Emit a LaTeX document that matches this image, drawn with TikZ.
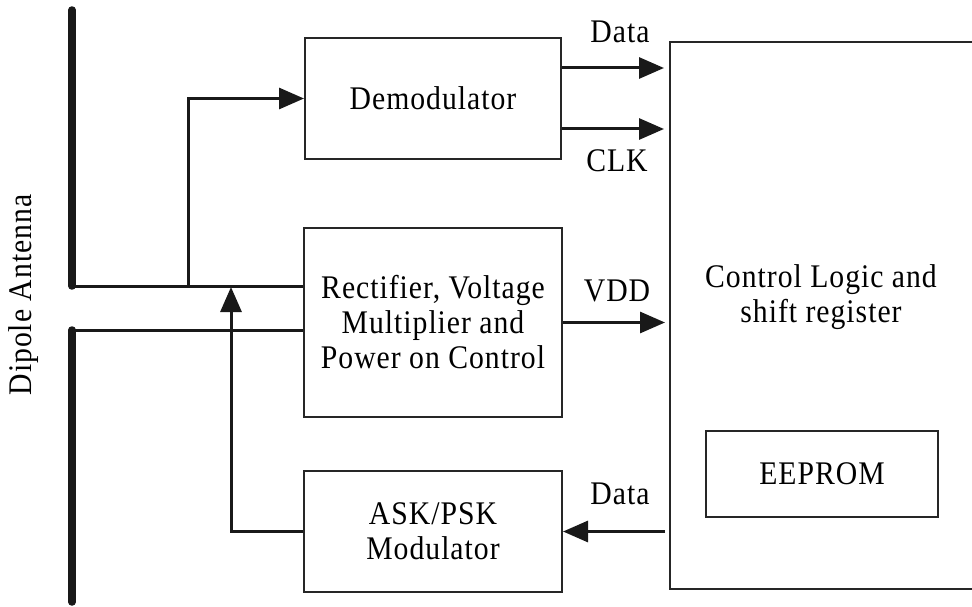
\documentclass[tikz,border=0pt]{standalone}
\usepackage{fontspec}
\setmainfont[FakeStretch=0.9,LetterSpace=3]{Liberation Serif}
\usetikzlibrary{arrows.meta}
\begin{document}
\begin{tikzpicture}[x=1pt,y=-1pt,
  every node/.style={font=\fontsize{33}{35}\selectfont, inner sep=0pt},
  blk/.style={draw=black!85, line width=2pt, align=center},
  wire/.style={line width=3pt, black!90},
  ant/.style={line width=7.5pt, black!90, line cap=round},
  arr/.style={wire, -{Triangle[length=25pt,width=21pt]}},
  lbl/.style={}]
\useasboundingbox (0,0) rectangle (972,607);
\clip (0,0) rectangle (972,607);
% blocks
\node[blk, minimum width=256pt, minimum height=121pt] (demod) at (433,98.5) {Demodulator};
\node[blk, minimum width=258pt, minimum height=189pt] (rect) at (433,322.5) {Rectifier, Voltage\\Multiplier and\\Power on Control};
\node[blk, minimum width=258pt, minimum height=121pt] (ask) at (433,531.5) {ASK/PSK\\Modulator};
\node[blk, minimum width=330pt, minimum height=547pt] (ctrl) at (835,315.5) {};
\node (ctrltext) at (821,297) [align=center] {Control Logic and\\shift register};
\node[blk, minimum width=232pt, minimum height=86pt] (eeprom) at (822,474) {EEPROM};
% antenna
\coordinate (a1top) at (72,10);
\coordinate (a1bot) at (72,286);
\coordinate (a2top) at (72,330);
\coordinate (a2bot) at (72,602);
\draw[ant] (a1top) -- (a1bot);
\draw[ant] (a2top) -- (a2bot);
\node[rotate=90] (dipole) at (24,295) {Dipole Antenna};
\draw[wire] (a1bot) -- (a1bot -| rect.west);
\draw[wire] (a2top) -- (a2top -| rect.west);
% branch to demodulator
\coordinate (br) at (188,286);
\draw[arr] (br) |- (demod.west);
% feedback from modulator
\coordinate (fb) at (231,287);
\draw[arr] (ask.west) -| (fb);
% demod outputs
\path ([yshift=30.5pt]demod.east) coordinate (d1);
\path ([yshift=-30.5pt]demod.east) coordinate (d2);
\draw[arr] (d1) -- ([xshift=-5pt]d1 -| ctrl.west);
\draw[arr] (d2) -- ([xshift=-5pt]d2 -| ctrl.west);
\draw[arr] (rect.east) -- ([xshift=-4pt]rect.east -| ctrl.west);
\draw[arr] ([xshift=-4pt]ask.east -| ctrl.west) -- (ask.east);
% labels
\node (ldata) at (620,32) {Data};
\node (lclk) at (617,161) {CLK};
\node (lvdd) at (617,291) {VDD};
\node (ldata2) at (620,494) {Data};
\end{tikzpicture}
\end{document}
